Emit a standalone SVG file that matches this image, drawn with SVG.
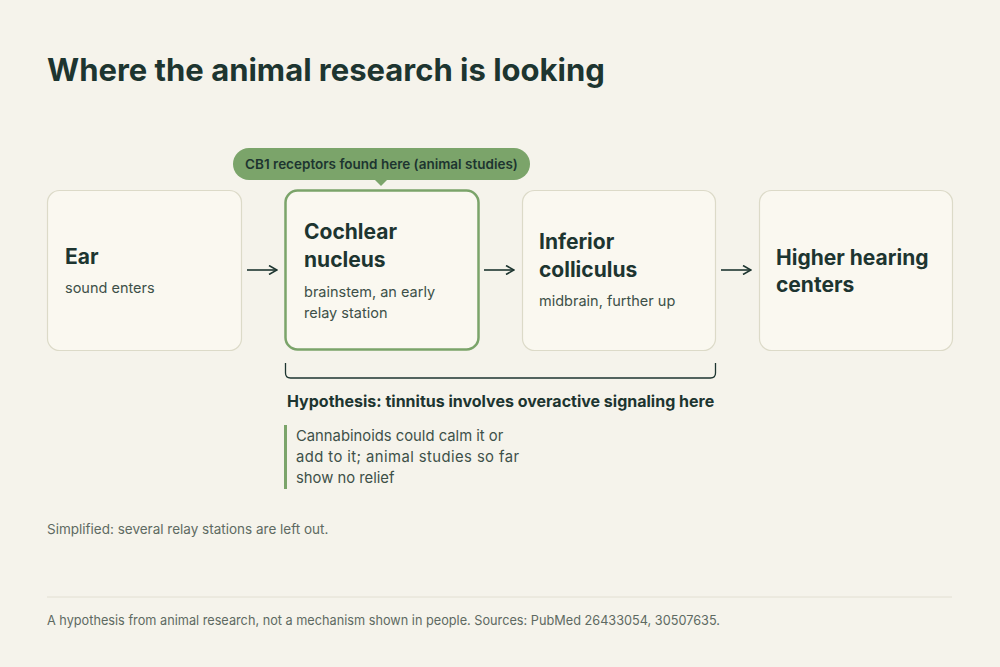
<svg xmlns="http://www.w3.org/2000/svg" width="1000" height="667" viewBox="0 0 1000 667">
<defs>
<style>
text{font-family:Inter,"Noto Sans","Liberation Sans",sans-serif;}
.title{font-size:31px;font-weight:700;fill:#1d3530;}
.box{fill:#faf8f0;stroke:#dcdac8;stroke-width:1.2;}
.hl{fill:#faf8f0;stroke:#7ba46a;stroke-width:2.5;}
.nt{font-size:21px;font-weight:700;fill:#1d3530;}
.ns{font-size:14.5px;fill:#3d5048;}
.note{font-size:14.8px;fill:#3d5048;}
.conn{stroke:#1d3530;stroke-width:1.6;fill:none;}
.small{font-size:13.5px;fill:#5e6a62;}
</style>
<marker id="ah" viewBox="0 0 10 10" refX="9" refY="5" markerWidth="10" markerHeight="10" markerUnits="userSpaceOnUse" orient="auto">
<path d="M1,0.5 L9,5 L1,9.5" fill="none" stroke="#1d3530" stroke-width="1.6"/>
</marker>
</defs>
<rect width="1000" height="667" fill="#f5f3eb"/>
<text class="title" x="47" y="81">Where the animal research is looking</text>

<g id="callout">
<rect x="233" y="148" width="297" height="32" rx="16" fill="#7ba46a"/>
<path d="M374,179 L381,186 L388,179 Z" fill="#7ba46a"/>
<text x="381.5" y="169" text-anchor="middle" font-size="13.5" font-weight="600" fill="#1d3530">CB1 receptors found here (animal studies)</text>
</g>

<g id="ear">
<rect class="box" x="47.5" y="190.5" width="194" height="160" rx="12"/>
<text class="nt" x="65" y="264">Ear</text>
<text class="ns" x="65" y="293">sound enters</text>
</g>
<g id="cochlear">
<rect class="hl" x="285.5" y="190.5" width="193" height="159" rx="12"/>
<text class="nt" x="304" y="239">Cochlear</text>
<text class="nt" x="304" y="267">nucleus</text>
<text class="ns" x="304" y="297">brainstem, an early</text>
<text class="ns" x="304" y="318">relay station</text>
</g>
<g id="inferior">
<rect class="box" x="522.5" y="190.5" width="193" height="160" rx="12"/>
<text class="nt" x="539" y="249">Inferior</text>
<text class="nt" x="539" y="277">colliculus</text>
<text class="ns" x="539" y="306">midbrain, further up</text>
</g>
<g id="higher">
<rect class="box" x="759.5" y="190.5" width="193" height="160" rx="12"/>
<text class="nt" x="776" y="265">Higher hearing</text>
<text class="nt" x="776" y="292">centers</text>
</g>

<g id="connectors">
<line class="conn" x1="247" y1="270" x2="277" y2="270" marker-end="url(#ah)"/>
<line class="conn" x1="484" y1="270" x2="514" y2="270" marker-end="url(#ah)"/>
<line class="conn" x1="721" y1="270" x2="751" y2="270" marker-end="url(#ah)"/>
</g>

<g id="hypothesis">
<path d="M285.5,363 V373 Q285.5,378 290.5,378 H710.5 Q715.5,378 715.5,373 V363" fill="none" stroke="#1d3530" stroke-width="1.3"/>
<text x="287" y="407" font-size="16" font-weight="700" fill="#1d3530">Hypothesis: tinnitus involves overactive signaling here</text>
<rect x="284" y="425" width="3" height="64" fill="#7ba46a"/>
<text class="note" x="296" y="441">Cannabinoids could calm it or</text>
<text class="note" x="296" y="462" textLength="223" lengthAdjust="spacing">add to it; animal studies so far</text>
<text class="note" x="296" y="483">show no relief</text>
</g>

<text class="small" x="47" y="534">Simplified: several relay stations are left out.</text>
<line x1="47" y1="597" x2="952" y2="597" stroke="#e2dfd2" stroke-width="1"/>
<text class="small" x="47" y="625" fill="#4c5a52" textLength="673" lengthAdjust="spacingAndGlyphs">A hypothesis from animal research, not a mechanism shown in people. Sources: PubMed 26433054, 30507635.</text>
</svg>
